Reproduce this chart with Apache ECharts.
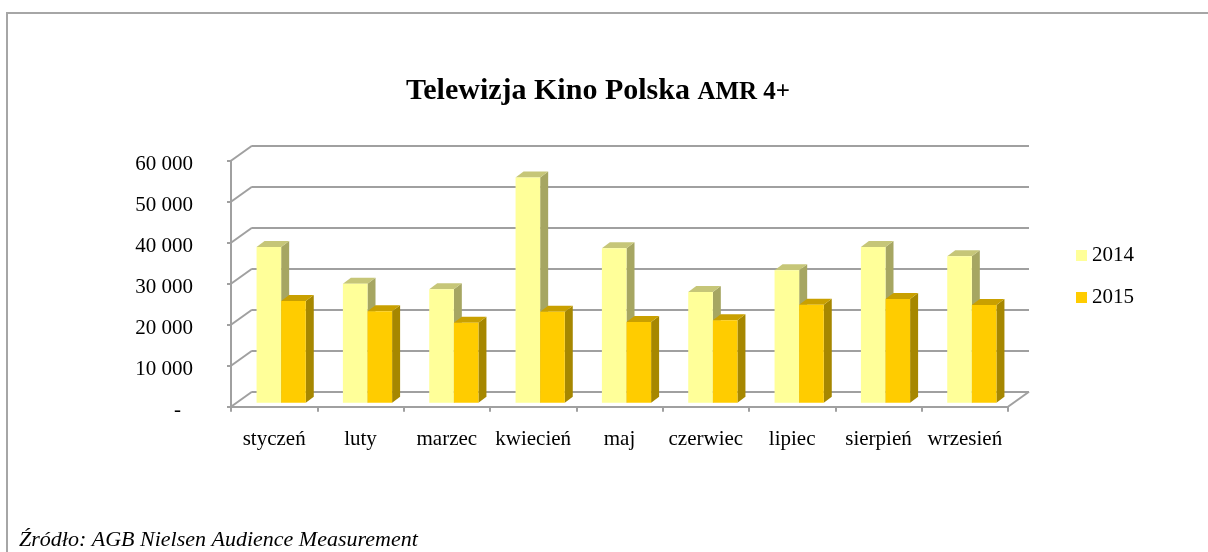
<!DOCTYPE html>
<html>
<head>
<meta charset="utf-8">
<script src="https://cdn.jsdelivr.net/npm/echarts@6/dist/echarts.min.js"></script>
<style>
  html, body { margin: 0; padding: 0; background: #fff; }
  #main { width: 1208px; height: 552px; }
</style>
</head>
<body>
<div id="main"></div>
<script>
const months = ['styczeń', 'luty', 'marzec', 'kwiecień', 'maj', 'czerwiec', 'lipiec', 'sierpień', 'wrzesień'];
const values2014 = [38000, 29000, 27700, 54900, 37700, 27000, 32300, 38000, 35700];
const values2015 = [24800, 22300, 19500, 22200, 19700, 20100, 23900, 25300, 23800];
const yTicks = [0, 10000, 20000, 30000, 40000, 50000, 60000];

const font = '"Liberation Serif", "Times New Roman", serif';
const gridColor = '#a0a0a0';

// depth of the 3d box (wall) and of the bars
const depth = [21, -15];
const barDepth = [8, -6];

function fmt(v) {
    if (v === 0) return '{d|-}';
    return String(v).replace(/\B(?=(\d{3})+(?!\d))/g, ' ');
}

function barRenderer(side, faces) {
    return (params, api) => {
        const idx = api.value(0);
        const top = api.coord([idx, api.value(1)]);
        const base = api.coord([idx, 0]);
        const bw = api.size([1, 0])[0] * 0.285;
        const x0 = top[0] - bw + side * bw;
        const [dx, dy] = barDepth;
        return {
            type: 'group',
            children: [
                {
                    type: 'polygon',
                    shape: { points: [[x0 + bw, top[1]], [x0 + bw + dx, top[1] + dy], [x0 + bw + dx, base[1] + dy], [x0 + bw, base[1]]] },
                    style: { fill: faces.side }
                },
                {
                    type: 'polygon',
                    shape: { points: [[x0, top[1]], [x0 + dx, top[1] + dy], [x0 + bw + dx, top[1] + dy], [x0 + bw, top[1]]] },
                    style: { fill: faces.top }
                },
                {
                    type: 'rect',
                    shape: { x: x0, y: top[1], width: bw, height: base[1] - top[1] },
                    style: { fill: faces.front }
                }
            ]
        };
    };
}

const chart = echarts.init(document.getElementById('main'));

const frontGrid = { left: 231, right: 200, top: 160.7, bottom: 145.3 };

option = {
    animation: false,
    backgroundColor: '#fff',
    title: {
        text: '{a|Telewizja Kino Polska }{b|AMR 4+}',
        left: 406,
        top: 72,
        padding: 0,
        textStyle: {
            rich: {
                a: { fontFamily: font, fontSize: 30, fontWeight: 'bold', color: '#000', lineHeight: 34, verticalAlign: 'bottom' },
                b: { fontFamily: font, fontSize: 25, fontWeight: 'bold', color: '#000', lineHeight: 34, verticalAlign: 'bottom', padding: [0, 0, 1, 0] }
            }
        }
    },
    legend: {
        orient: 'vertical',
        left: 1076,
        top: 245,
        padding: 0,
        icon: 'rect',
        itemWidth: 11,
        itemHeight: 11,
        itemGap: 21,
        textStyle: { fontFamily: font, fontSize: 21, color: '#000', lineHeight: 21 },
        data: ['2014', '2015']
    },
    graphic: [
        {
            type: 'polyline',
            shape: { points: [[7, 560], [7, 13], [1220, 13]] },
            style: { stroke: '#a6a6a6', lineWidth: 2, fill: null }
        },
        {
            type: 'text',
            left: 19,
            top: 529,
            style: {
                text: 'Źródło: AGB Nielsen Audience Measurement',
                font: 'italic 22px ' + font,
                fill: '#000'
            }
        }
    ],
    grid: [
        // back wall
        { left: frontGrid.left + depth[0], right: frontGrid.right - depth[0], top: frontGrid.top + depth[1], bottom: frontGrid.bottom - depth[1] },
        // front plane (axes)
        frontGrid,
        // bar plane
        { left: frontGrid.left + 7, right: frontGrid.right - 7, top: frontGrid.top - 4, bottom: frontGrid.bottom + 4 }
    ],
    xAxis: [
        { gridIndex: 0, type: 'category', data: months, show: false },
        {
            gridIndex: 1, type: 'category', data: months,
            axisLine: { lineStyle: { color: gridColor, width: 2 } },
            axisTick: { show: true, length: 5, lineStyle: { color: gridColor, width: 2 } },
            axisLabel: { fontFamily: font, fontSize: 21, color: '#000', margin: 22, interval: 0 }
        },
        { gridIndex: 2, type: 'category', data: months, show: false }
    ],
    yAxis: [
        {
            gridIndex: 0, type: 'value', min: 0, max: 60000, interval: 10000,
            axisLine: { show: false }, axisTick: { show: false }, axisLabel: { show: false },
            splitLine: { lineStyle: { color: gridColor, width: 2 } }
        },
        {
            gridIndex: 1, type: 'value', min: 0, max: 60000, interval: 10000,
            axisLine: { show: true, lineStyle: { color: gridColor, width: 2 } },
            axisTick: { show: true, length: 4, lineStyle: { color: gridColor, width: 2 } },
            splitLine: { show: false },
            axisLabel: {
                fontFamily: font, fontSize: 21, color: '#000', margin: 38,
                padding: [7, 0, 0, 0],
                formatter: fmt,
                rich: { d: { fontFamily: font, fontSize: 21, color: '#000', padding: [0, 12, 0, 0] } }
            }
        },
        { gridIndex: 2, type: 'value', min: 0, max: 60000, show: false }
    ],
    series: [
        {
            // slanted lines joining front axis and back wall
            type: 'custom',
            xAxisIndex: 1,
            yAxisIndex: 1,
            silent: true,
            data: yTicks.map(v => [0, v]),
            renderItem: (params, api) => {
                const p = api.coord([0, api.value(1)]);
                const x0 = params.coordSys.x;
                const lines = [{
                    type: 'line',
                    shape: { x1: x0, y1: p[1], x2: x0 + depth[0], y2: p[1] + depth[1] },
                    style: { stroke: gridColor, lineWidth: 2 }
                }];
                if (api.value(1) === 0) {
                    const x1 = x0 + params.coordSys.width;
                    lines.push({
                        type: 'line',
                        shape: { x1: x1, y1: p[1], x2: x1 + depth[0], y2: p[1] + depth[1] },
                        style: { stroke: gridColor, lineWidth: 2 }
                    });
                }
                return { type: 'group', children: lines };
            }
        },
        {
            name: '2014',
            type: 'custom',
            xAxisIndex: 2,
            yAxisIndex: 2,
            itemStyle: { color: '#ffff99' },
            data: values2014.map((v, i) => [i, v]),
            renderItem: barRenderer(0, { front: '#ffff99', side: '#a6a662', top: '#c6c678' })
        },
        {
            name: '2015',
            type: 'custom',
            xAxisIndex: 2,
            yAxisIndex: 2,
            itemStyle: { color: '#ffcc00' },
            data: values2015.map((v, i) => [i, v]),
            renderItem: barRenderer(1, { front: '#ffcc00', side: '#a68700', top: '#c9a000' })
        }
    ]
};

chart.setOption(option);
</script>
</body>
</html>
